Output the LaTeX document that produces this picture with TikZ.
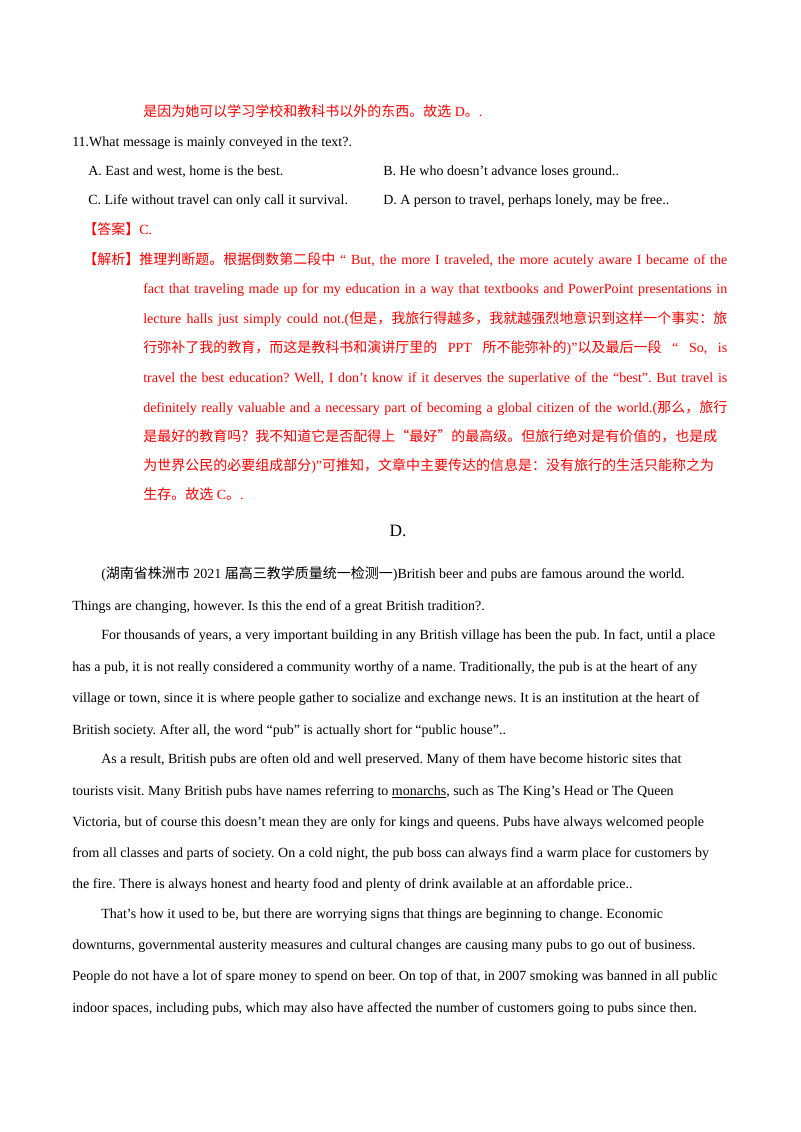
\documentclass[tikz,border=0pt]{standalone}
\usepackage{fontspec}
\setmainfont{Liberation Serif}
\newfontfamily\cjk{Noto Sans CJK SC}
\frenchspacing
\begin{document}
\begin{tikzpicture}[x=0.75pt,y=-0.75pt,
  t/.style={anchor=base west,inner sep=0pt,font=\fontsize{10.5pt}{12pt}\selectfont\frenchspacing},
  r/.style={t,text=red}]
\useasboundingbox (0,0) rectangle (800,1132);
\fill[white] (0,0) rectangle (800,1132);
\def\J#1{\makebox[438pt][s]{#1}}
\node[r] (l1) at (143,116) {{\cjk 是因为她可以学习学校和教科书以外的东西。故选} D{\cjk 。}.};
\node[t] (q) at (72,146) {11.What message is mainly conveyed in the text?.};
\node[t] (a) at (88,175) {A. East and west, home is the best.};
\node[t] (b) at (383,175) {B. He who doesn’t advance loses ground..};
\node[t] (c) at (88,204) {C. Life without travel can only call it survival.};
\node[t] (d) at (383,204) {D. A person to travel, perhaps lonely, may be free..};
\node[r] (ans) at (83,234) {{\cjk 【答案】}C.};
\node[r] (j0) at (83,264) {\makebox[483pt][s]{{\cjk 【解析】推理判断题。根据倒数第二段中} “ But, the more I traveled, the more acutely aware I became of the}};
\node[r] (j1) at (143,293) {\J{fact that traveling made up for my education in a way that textbooks and PowerPoint presentations in}};
\node[r] (j2) at (143,323) {\J{lecture halls just simply could not.({\cjk 但是，我旅行得越多，我就越强烈地意识到这样一个事实：旅}}};
\node[r] (j3) at (143,352) {\J{{\cjk 行弥补了我的教育，而这是教科书和演讲厅里的} PPT {\cjk 所不能弥补的})”{\cjk 以及最后一段} “ So, is}};
\node[r] (j4) at (143,382) {\J{travel the best education? Well, I don’t know if it deserves the superlative of the “best”. But travel is}};
\node[r] (j5) at (143,412) {\J{definitely really valuable and a necessary part of becoming a global citizen of the world.({\cjk 那么，旅行}}};
\node[r] (j6) at (143,441) {\J{{\cjk 是最好的教育吗？我不知道它是否配得上“最好”的最高级。但旅行绝对是有价值的，也是成}}};
\node[r] (j7) at (143,470) {\J{{\cjk 为世界公民的必要组成部分})”{\cjk 可推知，文章中主要传达的信息是：没有旅行的生活只能称之为}}};
\node[r] (j8) at (143,499) {{\cjk 生存。故选} C{\cjk 。}.};
\node[anchor=base,inner sep=0pt,font=\fontsize{13pt}{15pt}\selectfont] (D) at (398,536) {D.};
\node[t] (p1) at (101,578) {({\cjk 湖南省株洲市} 2021 {\cjk 届高三教学质量统一检测一})British beer and pubs are famous around the world.};
\node[t] (p2) at (72,610) {Things are changing, however. Is this the end of a great British tradition?.};
\node[t] (p3) at (101,639) {For thousands of years, a very important building in any British village has been the pub. In fact, until a place};
\node[t] (p4) at (72,671) {has a pub, it is not really considered a community worthy of a name. Traditionally, the pub is at the heart of any};
\node[t] (p5) at (72,702) {village or town, since it is where people gather to socialize and exchange news. It is an institution at the heart of};
\node[t] (p6) at (72,734) {British society. After all, the word “pub” is actually short for “public house”..};
\node[t] (p7) at (101,763) {As a result, British pubs are often old and well preserved. Many of them have become historic sites that};
\node[t] (p8) at (72,795) {tourists visit. Many British pubs have names referring to \underline{monarchs}, such as The King’s Head or The Queen};
\node[t] (p9) at (72,826) {Victoria, but of course this doesn’t mean they are only for kings and queens. Pubs have always welcomed people};
\node[t] (p10) at (72,857) {from all classes and parts of society. On a cold night, the pub boss can always find a warm place for customers by};
\node[t] (p11) at (72,888) {the fire. There is always honest and hearty food and plenty of drink available at an affordable price..};
\node[t] (p12) at (101,918) {That’s how it used to be, but there are worrying signs that things are beginning to change. Economic};
\node[t] (p13) at (72,949) {downturns, governmental austerity measures and cultural changes are causing many pubs to go out of business.};
\node[t] (p14) at (72,980) {People do not have a lot of spare money to spend on beer. On top of that, in 2007 smoking was banned in all public};
\node[t] (p15) at (72,1012) {indoor spaces, including pubs, which may also have affected the number of customers going to pubs since then.};
\end{tikzpicture}
\end{document}
